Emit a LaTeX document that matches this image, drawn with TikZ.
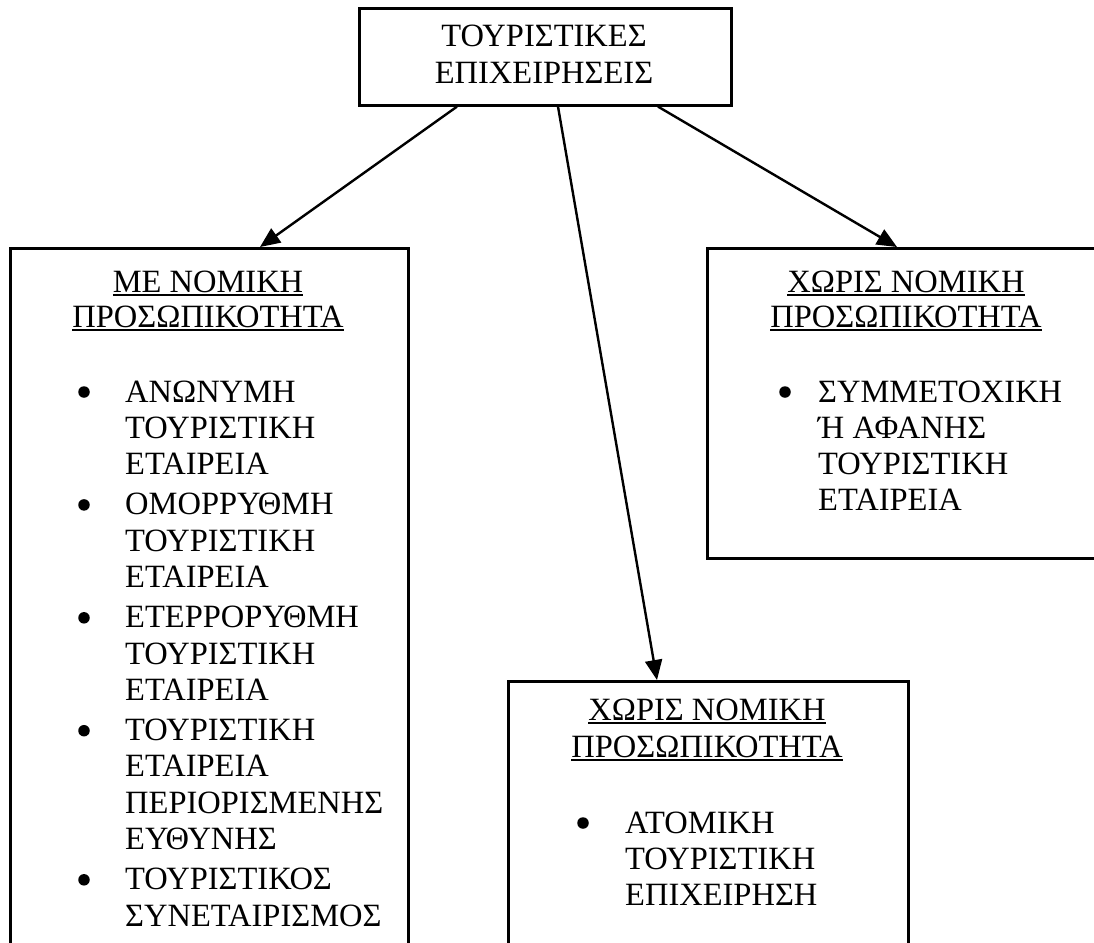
\documentclass[tikz,border=0pt]{standalone}
\usepackage{fontspec}
\setmainfont{Liberation Serif}
\usetikzlibrary{arrows.meta,calc}
\newcommand\ulined[1]{\setbox0\hbox{#1}\rlap{\rule[-4pt]{\wd0}{2pt}}\box0}
\begin{document}
\begin{tikzpicture}[x=1pt,y=-1pt,
  box/.style={draw,line width=2.6pt,inner sep=0pt,anchor=north west},
  txt/.style={inner sep=0pt,font=\fontsize{32.5}{36}\selectfont},
  ltxt/.style={txt,anchor=base west},
  ctxt/.style={txt,anchor=base},
  arr/.style={line width=2.4pt,-{Triangle[length=20pt,width=17pt]}},
  dot/.style={circle,fill,inner sep=0pt,minimum size=11.5pt}]
\useasboundingbox (0,0) rectangle (1094,942);
\clip (0,0) rectangle (1094,942);
\fill[white] (0,0) rectangle (1094,942);

% boxes
\node[box,minimum width=372pt,minimum height=97pt] (top) at (358,7) {};
\node[box,minimum width=398pt,minimum height=760pt] (left) at (9,247) {};
\node[box,minimum width=400pt,minimum height=310pt] (right) at (706,247) {};
\node[box,minimum width=400pt,minimum height=320pt] (bot) at (507,680) {};

% top text
\node[ctxt] (t1) at (544,47) {ΤΟΥΡΙΣΤΙΚΕΣ};
\node[ctxt] (t2) at (544,83) {ΕΠΙΧΕΙΡΗΣΕΙΣ};

% left box
\node[ctxt] (lh1) at (208,292) {\ulined{ΜΕ ΝΟΜΙΚΗ}};
\node[ctxt] (lh2) at (208,327) {\ulined{ΠΡΟΣΩΠΙΚΟΤΗΤΑ}};
\node[dot] (lb1) at (84,392) {};
\node[ltxt] (l11) at (125,402) {ΑΝΩΝΥΜΗ};
\node[ltxt] (l12) at (125,438.2) {ΤΟΥΡΙΣΤΙΚΗ};
\node[ltxt] (l13) at (125,474.4) {ΕΤΑΙΡΕΙΑ};
\node[dot] (lb2) at (84,504.9) {};
\node[ltxt] (l21) at (125,514.9) {ΟΜΟΡΡΥΘΜΗ};
\node[ltxt] (l22) at (125,551.1) {ΤΟΥΡΙΣΤΙΚΗ};
\node[ltxt] (l23) at (125,587.3) {ΕΤΑΙΡΕΙΑ};
\node[dot] (lb3) at (84,617.8) {};
\node[ltxt] (l31) at (125,627.8) {ΕΤΕΡΡΟΡΥΘΜΗ};
\node[ltxt] (l32) at (125,664) {ΤΟΥΡΙΣΤΙΚΗ};
\node[ltxt] (l33) at (125,700.2) {ΕΤΑΙΡΕΙΑ};
\node[dot] (lb4) at (84,730.7) {};
\node[ltxt] (l41) at (125,740.7) {ΤΟΥΡΙΣΤΙΚΗ};
\node[ltxt] (l42) at (125,776.9) {ΕΤΑΙΡΕΙΑ};
\node[ltxt] (l43) at (125,813.1) {ΠΕΡΙΟΡΙΣΜΕΝΗΣ};
\node[ltxt] (l44) at (125,849.3) {ΕΥΘΥΝΗΣ};
\node[dot] (lb5) at (84,879.8) {};
\node[ltxt] (l51) at (125,889.8) {ΤΟΥΡΙΣΤΙΚΟΣ};
\node[ltxt] (l52) at (125,926) {ΣΥΝΕΤΑΙΡΙΣΜΟΣ};

% right box
\node[ctxt] (rh1) at (906,292) {\ulined{ΧΩΡΙΣ ΝΟΜΙΚΗ}};
\node[ctxt] (rh2) at (906,327) {\ulined{ΠΡΟΣΩΠΙΚΟΤΗΤΑ}};
\node[dot] (rb1) at (785,392) {};
\node[ltxt] (r11) at (818,402) {ΣΥΜΜΕΤΟΧΙΚΗ};
\node[ltxt] (r12) at (818,438) {Ή ΑΦΑΝΗΣ};
\node[ltxt] (r13) at (818,474) {ΤΟΥΡΙΣΤΙΚΗ};
\node[ltxt] (r14) at (818,510) {ΕΤΑΙΡΕΙΑ};

% bottom box
\node[ctxt] (bh1) at (707,720) {\ulined{ΧΩΡΙΣ ΝΟΜΙΚΗ}};
\node[ctxt] (bh2) at (707,757) {\ulined{ΠΡΟΣΩΠΙΚΟΤΗΤΑ}};
\node[dot] (bb1) at (583,823) {};
\node[ltxt] (b11) at (625,833) {ΑΤΟΜΙΚΗ};
\node[ltxt] (b12) at (625,869.2) {ΤΟΥΡΙΣΤΙΚΗ};
\node[ltxt] (b13) at (625,905.4) {ΕΠΙΧΕΙΡΗΣΗ};

% arrows
\draw[arr] ($(top.south west)+(99,0)$) -- ($(left.north west)+(251,0)$);
\draw[arr] ($(top.south west)+(200,0)$) -- ($(bot.north west)+(150,0)$);
\draw[arr] ($(top.south west)+(300,0)$) -- ($(right.north west)+(191,0)$);
\end{tikzpicture}
\end{document}
